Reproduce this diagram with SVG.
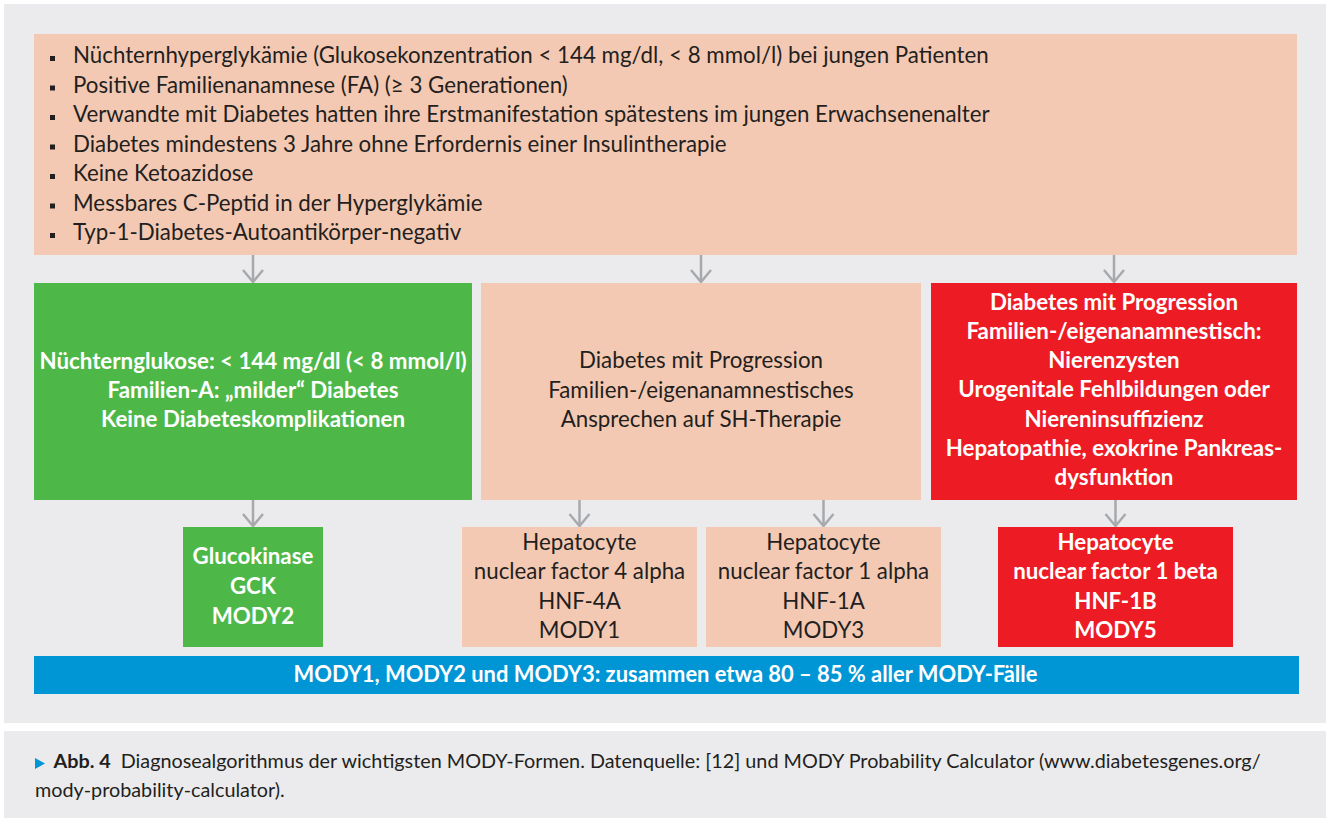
<svg xmlns="http://www.w3.org/2000/svg" width="1330" height="818" viewBox="0 0 1330 818">
<style>
  .panel { fill: #EBEBED; }
  .peach { fill: #F4C9B3; }
  .green { fill: #4DB848; }
  .red { fill: #ED1C24; }
  .blue { fill: #0096D6; }
  .body { font-family: Lato, "Liberation Sans", sans-serif; font-size: 22.3px; fill: #231F20; }
  .dark { font-family: Lato, "Liberation Sans", sans-serif; font-size: 22.3px; fill: #231F20; text-anchor: middle; }
  .white { font-family: Lato, "Liberation Sans", sans-serif; font-size: 22.3px; font-weight: 700; fill: #FFFFFF; text-anchor: middle; }
  .sum { font-size: 21.9px; }
  .cap { font-family: Lato, "Liberation Sans", sans-serif; font-size: 19.8px; fill: #231F20; }
  .bullet { fill: #231F20; }
  .conn { stroke: #A7A9AC; stroke-width: 2.5; fill: none; }
</style>
<defs>
  <marker id="ah" viewBox="0 0 14 24" refX="13" refY="12" markerWidth="14" markerHeight="24" orient="auto" markerUnits="userSpaceOnUse">
    <path d="M1,2 L13,12 L1,22" fill="none" stroke="#A7A9AC" stroke-width="2.5" stroke-linejoin="round"/>
  </marker>
</defs>
<rect width="1330" height="818" fill="#FFFFFF"/>
<rect class="panel" x="4" y="4" width="1322" height="719"/>
<rect class="panel" x="4" y="731" width="1322" height="87"/>

<g id="criteria">
  <rect class="peach" x="34" y="34" width="1263" height="221"/>
  <rect class="bullet" x="50" y="56" width="5" height="5"/>
  <rect class="bullet" x="50" y="85.5" width="5" height="5"/>
  <rect class="bullet" x="50" y="115" width="5" height="5"/>
  <rect class="bullet" x="50" y="144.5" width="5" height="5"/>
  <rect class="bullet" x="50" y="174" width="5" height="5"/>
  <rect class="bullet" x="50" y="203.5" width="5" height="5"/>
  <rect class="bullet" x="50" y="233" width="5" height="5"/>
  <text class="body" x="73" y="63.3">Nüchternhyperglykämie (Glukosekonzentration &lt; 144 mg/dl, &lt; 8 mmol/l) bei jungen Patienten</text>
  <text class="body" x="73" y="92.8">Positive Familienanamnese (FA) (≥ 3 Generationen)</text>
  <text class="body" x="73" y="122.3">Verwandte mit Diabetes hatten ihre Erstmanifestation spätestens im jungen Erwachsenenalter</text>
  <text class="body" x="73" y="151.8">Diabetes mindestens 3 Jahre ohne Erfordernis einer Insulintherapie</text>
  <text class="body" x="73" y="181.3">Keine Ketoazidose</text>
  <text class="body" x="73" y="210.8">Messbares C-Peptid in der Hyperglykämie</text>
  <text class="body" x="73" y="240.3">Typ-1-Diabetes-Autoantikörper-negativ</text>
</g>

<g id="mild">
  <rect class="green" x="34" y="283" width="438" height="217"/>
  <text class="white" x="253" y="368.5">Nüchternglukose: &lt; 144 mg/dl (&lt; 8 mmol/l)</text>
  <text class="white" x="253" y="398">Familien-A: „milder“ Diabetes</text>
  <text class="white" x="253" y="427">Keine Diabeteskomplikationen</text>
</g>

<g id="progression">
  <rect class="peach" x="481" y="283" width="440" height="217"/>
  <text class="dark" x="701" y="368">Diabetes mit Progression</text>
  <text class="dark" x="701" y="397.5">Familien-/eigenanamnestisches</text>
  <text class="dark" x="701" y="427">Ansprechen auf SH-Therapie</text>
</g>

<g id="progression-renal">
  <rect class="red" x="931" y="283" width="366" height="217"/>
  <text class="white" x="1114" y="309.5">Diabetes mit Progression</text>
  <text class="white" x="1114" y="338.8">Familien-/eigenanamnestisch:</text>
  <text class="white" x="1114" y="368.1">Nierenzysten</text>
  <text class="white" x="1114" y="397.4">Urogenitale Fehlbildungen oder</text>
  <text class="white" x="1114" y="426.7">Niereninsuffizienz</text>
  <text class="white" x="1114" y="456">Hepatopathie, exokrine Pankreas-</text>
  <text class="white" x="1114" y="485.3">dysfunktion</text>
</g>

<g id="gck">
  <rect class="green" x="183" y="527" width="140" height="120"/>
  <text class="white" x="253" y="564">Glucokinase</text>
  <text class="white" x="253" y="594">GCK</text>
  <text class="white" x="253" y="623.5">MODY2</text>
</g>

<g id="hnf4a">
  <rect class="peach" x="462" y="527" width="235" height="120"/>
  <text class="dark" x="579.5" y="550">Hepatocyte</text>
  <text class="dark" x="579.5" y="579.3">nuclear factor 4 alpha</text>
  <text class="dark" x="579.5" y="608.5">HNF-4A</text>
  <text class="dark" x="579.5" y="637.5">MODY1</text>
</g>

<g id="hnf1a">
  <rect class="peach" x="706" y="527" width="235" height="120"/>
  <text class="dark" x="823.5" y="550">Hepatocyte</text>
  <text class="dark" x="823.5" y="579.3">nuclear factor 1 alpha</text>
  <text class="dark" x="823.5" y="608.5">HNF-1A</text>
  <text class="dark" x="823.5" y="637.5">MODY3</text>
</g>

<g id="hnf1b">
  <rect class="red" x="998" y="527" width="235" height="120"/>
  <text class="white" x="1115.5" y="550">Hepatocyte</text>
  <text class="white" x="1115.5" y="579.3">nuclear factor 1 beta</text>
  <text class="white" x="1115.5" y="608.5">HNF-1B</text>
  <text class="white" x="1115.5" y="637.5">MODY5</text>
</g>

<g id="summary">
  <rect class="blue" x="34" y="656" width="1265" height="38"/>
  <text class="white sum" x="665.5" y="682">MODY1, MODY2 und MODY3: zusammen etwa 80 – 85 % aller MODY-Fälle</text>
</g>

<g id="connectors">
  <path class="conn" d="M253,255 V282" marker-end="url(#ah)"/>
  <path class="conn" d="M701,255 V282" marker-end="url(#ah)"/>
  <path class="conn" d="M1114,255 V282" marker-end="url(#ah)"/>
  <path class="conn" d="M253,500 V526" marker-end="url(#ah)"/>
  <path class="conn" d="M579.5,500 V526" marker-end="url(#ah)"/>
  <path class="conn" d="M823.5,500 V526" marker-end="url(#ah)"/>
  <path class="conn" d="M1115.5,500 V526" marker-end="url(#ah)"/>
</g>

<g id="caption">
  <path d="M35,758 L45,763.5 L35,769 Z" fill="#0096D6"/>
  <text class="cap" x="53.5" y="768.3"><tspan font-weight="700">Abb. 4</tspan><tspan dx="5"> Diagnosealgorithmus der wichtigsten MODY-Formen. Datenquelle: [12] und MODY Probability Calculator (www.diabetesgenes.org/</tspan></text>
  <text class="cap" x="35" y="796.7">mody-probability-calculator).</text>
</g>
</svg>
